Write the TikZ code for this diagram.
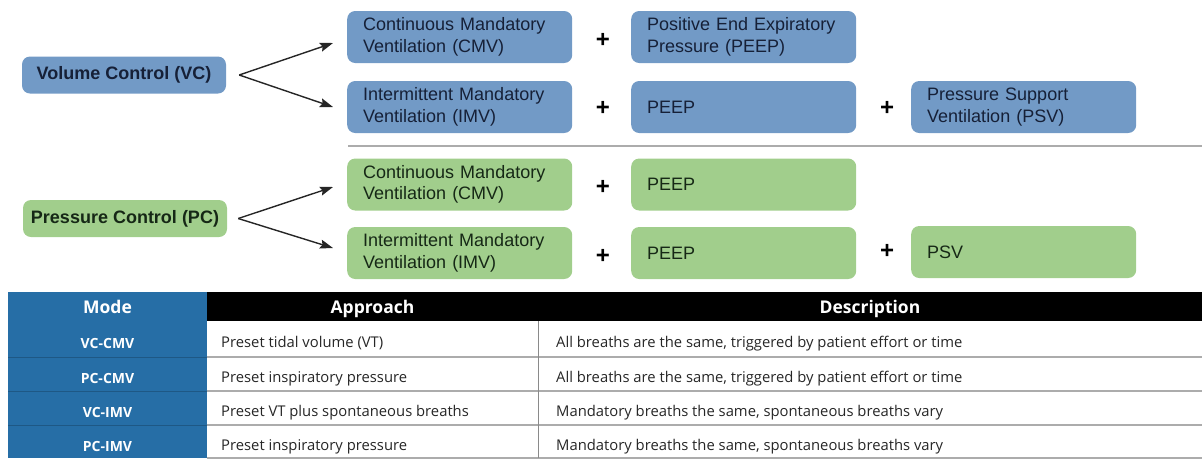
\documentclass[tikz,border=0pt]{standalone}
\usepackage{fontspec}
\setmainfont{Liberation Sans}
\newfontfamily\headfont{Open Sans}
\usepackage{xcolor}
\usetikzlibrary{arrows.meta}
\definecolor{vcblue}{RGB}{114,154,198}
\definecolor{pcgreen}{RGB}{161,206,140}
\definecolor{vctext}{RGB}{22,32,55}
\definecolor{pctext}{RGB}{22,40,22}
\definecolor{modeblue}{RGB}{38,110,166}
\definecolor{rulegray}{RGB}{172,172,172}
\tikzset{
  ventbox/.style={rounded corners=8pt, anchor=west, minimum height=52pt, text width=193pt,
    inner xsep=16pt, inner ysep=0pt, align=left, font=\fontsize{18}{21.5}\selectfont},
  vcbox/.style={ventbox, fill=vcblue, text=vctext},
  pcbox/.style={ventbox, fill=pcgreen, text=pctext},
  leadbox/.style={rounded corners=8pt, minimum width=204pt, minimum height=37pt, inner sep=0pt,
    font=\bfseries\fontsize{18}{20}\selectfont},
  plussign/.style={font=\bfseries\fontsize{24}{24}\selectfont, inner sep=0pt},
  branch/.style={-{Stealth[length=13pt,width=9pt,inset=2pt]}, line width=1.4pt, draw=black!85},
  tblhead/.style={anchor=base, inner sep=0pt, text=white, font=\headfont\bfseries\fontsize{17.5}{18}\selectfont},
  tblmode/.style={anchor=base, inner sep=0pt, text=white, font=\headfont\bfseries\fontsize{14}{15}\selectfont},
  tblcell/.style={anchor=base west, inner sep=0pt, text=black!85, font=\headfont\fontsize{14.8}{16}\selectfont},
}
\begin{document}
\begin{tikzpicture}[x=1pt,y=-1pt]
  \useasboundingbox (0,0) rectangle (1202,459);
  % volume control
  \node[leadbox, fill=vcblue, text=vctext] (vc) at (124,75) {Volume Control (VC)};
  \node[vcbox] (vccmv) at (347,37) {Continuous Mandatory\\Ventilation (CMV)};
  \node[plussign] (vcplusa) at (603,40) {+};
  \node[vcbox] (vcpeepa) at (631,37) {Positive End Expiratory\\Pressure (PEEP)};
  \node[vcbox] (vcimv) at (347,107) {Intermittent Mandatory\\Ventilation (IMV)};
  \node[plussign] (vcplusb) at (603,108) {+};
  \node[vcbox] (vcpeepb) at (631,107) {PEEP};
  \node[plussign] (vcplusc) at (887,108) {+};
  \node[vcbox] (vcpsv) at (911,107) {Pressure Support\\Ventilation (PSV)};
  \coordinate (vcfork) at ([xshift=13pt]vc.east);
  \draw[branch] (vcfork) -- ([xshift=-14pt,yshift=-6pt]vccmv.west);
  \draw[branch] (vcfork) -- ([xshift=-14pt]vcimv.west);

  \draw[rulegray, line width=2pt] (348,146) -- (1202,146);

  % pressure control
  \node[leadbox, fill=pcgreen, text=pctext] (pc) at (125,218.5) {Pressure Control (PC)};
  \node[pcbox] (pccmv) at (347,184.5) {Continuous Mandatory\\Ventilation (CMV)};
  \node[plussign] (pcplusa) at (603,187) {+};
  \node[pcbox] (pcpeepa) at (631,184.5) {PEEP};
  \node[pcbox] (pcimv) at (347,253) {Intermittent Mandatory\\Ventilation (IMV)};
  \node[plussign] (pcplusb) at (603,256) {+};
  \node[pcbox] (pcpeepb) at (631,253) {PEEP};
  \node[plussign] (pcplusc) at (887,251) {+};
  \node[pcbox] (pcpsv) at (911,252) {PSV};
  \coordinate (pcfork) at ([xshift=11pt]pc.east);
  \draw[branch] (pcfork) -- ([xshift=-14pt,yshift=-2.5pt]pccmv.west);
  \draw[branch] (pcfork) -- ([xshift=-14pt,yshift=5pt]pcimv.west);

  % table
  \fill[modeblue] (8,292) rectangle (207,458);
  \fill[black] (207,292) rectangle (1202,321);
  \draw[modeblue!80!black, line width=0.8pt] (8,357) -- (207,357) (8,391) -- (207,391) (8,425) -- (207,425);
  \draw[rulegray, line width=1.5pt] (207,357) -- (1202,357) (207,391) -- (1202,391)
    (207,425) -- (1202,425) (207,458) -- (1202,458);
  \draw[rulegray!80!black, line width=1pt] (538,321) -- (538,458);
  \node[tblhead] (hmode) at (107.5,313) {Mode};
  \node[tblhead] (happr) at (372.5,313) {Approach};
  \node[tblhead] (hdesc) at (870,313) {Description};
  \node[tblmode] (mvccmv) at (107.5,348) {VC-CMV};
  \node[tblmode] (mpccmv) at (107.5,383) {PC-CMV};
  \node[tblmode] (mvcimv) at (107.5,417) {VC-IMV};
  \node[tblmode] (mpcimv) at (107.5,451) {PC-IMV};
  \node[tblcell] (avccmv) at (221,347.5) {Preset tidal volume (VT)};
  \node[tblcell] (apccmv) at (221,382.5) {Preset inspiratory pressure};
  \node[tblcell] (avcimv) at (221,416.5) {Preset VT plus spontaneous breaths};
  \node[tblcell] (apcimv) at (221,450.5) {Preset inspiratory pressure};
  \node[tblcell] (dvccmv) at (556,347.5) {All breaths are the same, triggered by patient effort or time};
  \node[tblcell] (dpccmv) at (556,382.5) {All breaths are the same, triggered by patient effort or time};
  \node[tblcell] (dvcimv) at (556,416.5) {Mandatory breaths the same, spontaneous breaths vary};
  \node[tblcell] (dpcimv) at (556,450.5) {Mandatory breaths the same, spontaneous breaths vary};
\end{tikzpicture}
\end{document}
